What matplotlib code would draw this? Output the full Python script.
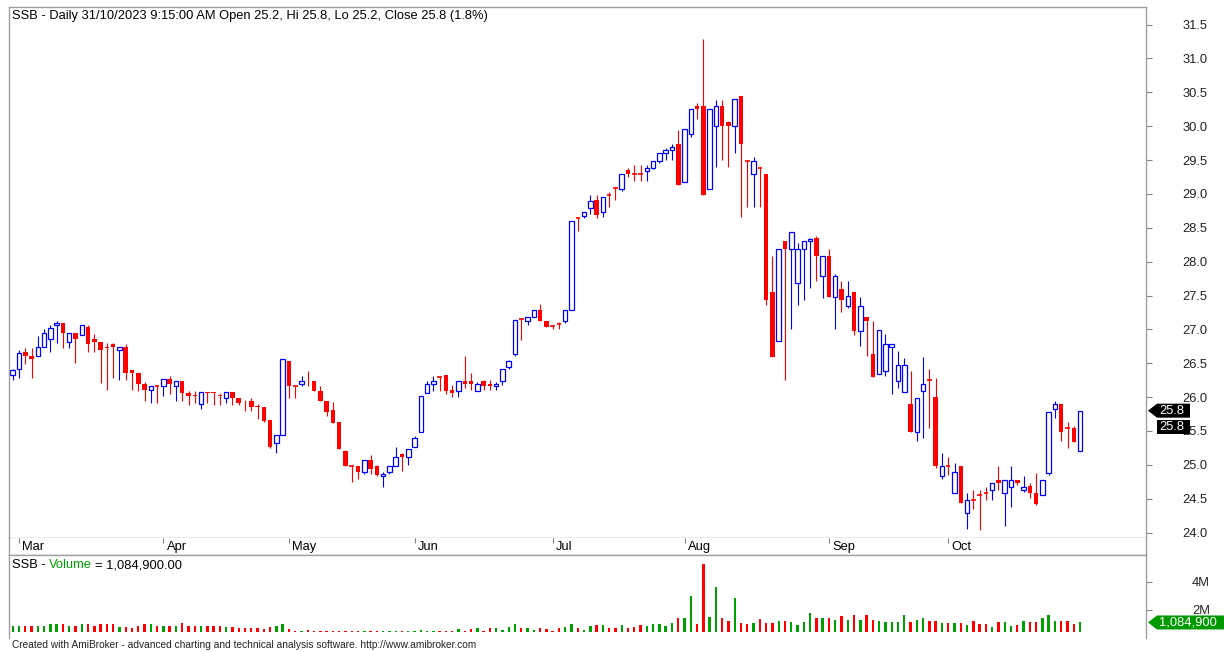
import numpy as np
import matplotlib.pyplot as plt
from matplotlib.patches import Polygon

plt.rcParams['font.family'] = ['Liberation Sans', 'DejaVu Sans']

# daily bars, 28/02/2023 .. 31/10/2023
opens = [26.32, 26.41, 26.66, 26.61, 26.60, 26.74, 26.865, 27.07, 27.10, 26.82,
         26.94, 26.91, 27.03, 26.865, 26.82, 26.74, 26.79, 26.70, 26.74, 26.40,
         26.36, 26.19, 26.10, 26.16, 26.16, 26.27, 26.16, 26.24, 26.06, 26.03,
         25.90, 26.07, 26.07, 26.03, 25.99, 26.07, 25.99, 25.95, 25.95, 25.87,
         25.86, 25.66, 25.32, 25.44, 26.53, 26.16, 26.19, 26.245, 26.24, 26.095,
         25.94, 25.815, 25.63, 25.20, 24.985, 24.985, 24.90, 25.07, 24.99, 24.83,
         24.90, 24.985, 25.16, 25.11, 25.27, 25.48, 26.06, 26.195, 26.29, 26.32,
         26.105, 26.095, 26.24, 26.24, 26.095, 26.24, 26.19, 26.16, 26.24, 26.44,
         26.63, 27.16, 27.13, 27.18, 27.29, 27.13, 27.05, 27.08, 27.13, 27.29,
         28.65, 28.68, 28.79, 28.91, 28.74, 28.99, 29.09, 29.08, 29.35, 29.30,
         29.30, 29.34, 29.39, 29.49, 29.60, 29.65, 29.74, 29.18, 29.88, 30.30,
         30.30, 29.08, 30.00, 30.30, 30.055, 30.00, 30.45, 29.49, 29.29, 29.39,
         29.30, 27.55, 26.83, 28.30, 28.18, 27.69, 28.18, 28.30, 28.35, 27.79,
         28.09, 27.48, 27.60, 27.34, 27.55, 26.98, 27.18, 26.64, 26.34, 26.38,
         26.74, 26.24, 26.075, 25.90, 25.48, 26.085, 26.25, 26.00, 24.84, 24.99,
         24.58, 24.99, 24.29, 24.48, 24.55, 24.59, 24.63, 24.78, 24.58, 24.68,
         24.78, 24.63, 24.69, 24.58, 24.55, 24.88, 25.83, 25.90, 25.55, 25.55,
         25.20]
highs = [26.42, 26.69, 26.72, 26.72, 26.90, 27.01, 27.07, 27.13, 27.10, 26.94,
         26.94, 27.07, 27.06, 26.93, 26.82, 26.80, 26.80, 26.74, 26.78, 26.40,
         26.36, 26.23, 26.16, 26.18, 26.27, 26.31, 26.24, 26.24, 26.09, 26.09,
         26.07, 26.07, 26.07, 26.06, 26.07, 26.07, 25.99, 25.96, 25.98, 25.90,
         25.86, 25.66, 25.44, 26.56, 26.53, 26.16, 26.31, 26.39, 26.24, 26.16,
         25.94, 25.93, 25.63, 25.22, 24.985, 24.985, 25.07, 25.15, 25.00, 24.89,
         24.985, 25.26, 25.18, 25.24, 25.43, 26.02, 26.24, 26.31, 26.29, 26.32,
         26.18, 26.24, 26.60, 26.35, 26.22, 26.26, 26.26, 26.23, 26.41, 26.55,
         27.14, 27.16, 27.18, 27.29, 27.38, 27.13, 27.07, 27.11, 27.29, 28.60,
         28.65, 28.74, 28.99, 28.99, 28.96, 29.03, 29.10, 29.30, 29.39, 29.425,
         29.425, 29.42, 29.49, 29.60, 29.68, 29.73, 29.94, 29.96, 30.25, 30.34,
         31.29, 30.25, 30.385, 30.385, 30.08, 30.40, 30.45, 29.49, 29.54, 29.40,
         29.30, 28.08, 28.18, 28.30, 28.44, 28.28, 28.30, 28.35, 28.38, 28.09,
         28.18, 27.82, 27.72, 27.72, 27.55, 27.48, 27.18, 27.12, 26.99, 26.93,
         26.79, 26.68, 26.58, 26.38, 25.99, 26.59, 26.42, 26.28, 25.17, 25.12,
         25.03, 24.99, 24.58, 24.63, 24.63, 24.68, 24.73, 24.98, 24.78, 24.98,
         24.78, 24.83, 24.73, 24.88, 24.78, 25.78, 25.94, 25.90, 25.63, 25.58,
         25.80]
lows = [26.26, 26.28, 26.49, 26.28, 26.60, 26.74, 26.67, 26.80, 26.72, 26.72,
        26.50, 26.91, 26.67, 26.67, 26.21, 26.11, 26.28, 26.26, 26.26, 26.11,
        26.09, 25.95, 25.92, 25.92, 26.01, 26.04, 25.95, 25.95, 25.88, 25.92,
        25.83, 25.92, 25.88, 25.88, 25.92, 25.88, 25.89, 25.80, 25.80, 25.67,
        25.64, 25.25, 25.17, 25.44, 25.99, 25.99, 26.17, 26.17, 26.095, 25.94,
        25.72, 25.62, 25.24, 24.985, 24.74, 24.79, 24.87, 24.87, 24.83, 24.67,
        24.87, 24.985, 24.91, 25.00, 25.26, 25.48, 26.06, 26.09, 26.09, 26.04,
        25.995, 26.00, 26.14, 26.11, 26.09, 26.11, 26.11, 26.11, 26.18, 26.42,
        26.60, 26.85, 27.06, 27.18, 27.13, 27.04, 27.00, 27.00, 27.10, 27.29,
        28.45, 28.64, 28.70, 28.65, 28.66, 28.80, 28.91, 29.05, 29.25, 29.19,
        29.19, 29.19, 29.37, 29.45, 29.50, 29.50, 29.13, 29.18, 29.84, 30.10,
        28.99, 29.08, 29.40, 29.50, 29.40, 29.61, 28.66, 28.80, 28.80, 28.80,
        27.36, 26.59, 26.83, 26.26, 27.00, 27.36, 27.44, 27.61, 27.71, 27.46,
        27.48, 27.00, 27.26, 27.31, 26.91, 26.75, 26.60, 26.29, 26.34, 26.31,
        26.05, 26.14, 26.075, 25.48, 25.35, 25.40, 25.55, 24.95, 24.79, 24.85,
        24.58, 24.43, 24.05, 24.35, 24.04, 24.48, 24.48, 24.63, 24.09, 24.38,
        24.70, 24.60, 24.51, 24.40, 24.55, 24.85, 25.69, 25.35, 25.25, 25.34,
        25.20]
closes = [26.40, 26.65, 26.61, 26.56, 26.74, 26.94, 27.02, 27.10, 26.94, 26.94,
          26.865, 27.07, 26.79, 26.82, 26.70, 26.73, 26.74, 26.74, 26.36, 26.36,
          26.19, 26.10, 26.16, 26.16, 26.27, 26.19, 26.24, 26.06, 26.02, 26.02,
          26.07, 26.06, 26.06, 26.02, 26.07, 25.99, 25.91, 25.94, 25.86, 25.86,
          25.65, 25.27, 25.44, 26.56, 26.16, 26.16, 26.24, 26.24, 26.095, 25.94,
          25.775, 25.62, 25.24, 24.985, 24.985, 24.90, 25.07, 24.94, 24.85, 24.86,
          24.985, 25.11, 25.11, 25.24, 25.40, 26.02, 26.19, 26.24, 26.29, 26.095,
          26.06, 26.24, 26.19, 26.19, 26.19, 26.17, 26.16, 26.19, 26.41, 26.53,
          27.14, 27.16, 27.18, 27.29, 27.13, 27.04, 27.05, 27.08, 27.29, 28.60,
          28.65, 28.74, 28.90, 28.69, 28.96, 28.99, 29.09, 29.30, 29.30, 29.30,
          29.30, 29.39, 29.49, 29.60, 29.65, 29.70, 29.13, 29.96, 30.25, 30.25,
          28.99, 30.25, 30.30, 30.00, 30.00, 30.40, 29.735, 29.49, 29.49, 29.39,
          27.43, 26.59, 28.18, 28.18, 28.44, 28.18, 28.30, 28.34, 28.08, 28.09,
          27.48, 27.79, 27.43, 27.49, 26.98, 27.34, 27.13, 26.29, 26.99, 26.79,
          26.79, 26.48, 26.48, 25.48, 25.99, 26.20, 26.25, 24.976, 24.99, 24.99,
          24.89, 24.43, 24.48, 24.48, 24.55, 24.59, 24.73, 24.73, 24.78, 24.78,
          24.73, 24.68, 24.58, 24.42, 24.78, 25.78, 25.90, 25.48, 25.55, 25.34,
          25.80]
# volume in millions of shares
volume_m = [0.85, 0.80, 0.85, 0.80, 0.85, 0.85, 0.95, 1.00, 0.95, 0.85,
            0.85, 0.95, 0.95, 0.85, 0.95, 0.95, 1.00, 0.75, 0.75, 0.70,
            0.80, 0.95, 0.95, 0.85,
            0.80, 0.85, 0.85, 1.05, 0.85, 0.85, 0.85, 0.80, 0.85, 0.80,
            0.75, 0.75, 0.70, 0.70, 0.68, 0.68, 0.65, 0.75, 0.80, 1.00,
            0.60, 0.48, 0.50, 0.55, 0.47, 0.46, 0.50, 0.47, 0.46, 0.48,
            0.50, 0.46, 0.48, 0.50, 0.47, 0.50, 0.46, 0.48, 0.50, 0.46,
            0.47, 0.55, 0.48, 0.46, 0.50, 0.47, 0.46, 0.58,
            0.50, 0.62, 0.70, 0.50, 0.68, 0.72, 0.55, 0.75, 1.00, 0.70,
            0.72, 0.52, 0.70, 0.60, 0.50, 0.72, 0.75, 0.95, 0.68, 0.52,
            0.80, 0.90,
            0.88, 0.66, 0.66, 0.88, 0.66, 0.76, 0.88, 0.80, 0.95, 1.00,
            0.83, 1.07, 1.39, 1.39, 2.95, 0.95, 5.29, 1.51, 3.63, 1.39,
            1.20, 2.85, 1.02, 1.00, 1.07, 1.32, 1.07, 1.07, 1.20, 1.20,
            1.15, 0.88, 1.12, 1.76, 1.44, 1.44, 1.44, 1.24, 1.54, 1.29,
            1.61, 1.29, 1.63, 1.29, 1.20, 1.15, 1.15, 1.15, 1.61, 1.15,
            1.24, 1.44, 1.20, 1.20, 1.07, 1.02, 1.05, 1.05, 0.88, 1.20,
            0.95, 0.95, 0.78, 1.15, 1.15, 0.83, 0.90, 1.20, 1.15, 1.15,
            1.44, 1.61, 1.20, 1.20, 1.20, 0.95, 1.084900]

month_names = ['Mar', 'Apr', 'May', 'Jun', 'Jul', 'Aug', 'Sep', 'Oct']
month_first_bar = [1, 24, 44, 64, 86, 107, 130, 149]
price_ticks = np.arange(24.0, 31.51, 0.5)
vol_ticks = [2, 4]
vol_tick_labels = ['2M', '4M']

title = 'SSB - Daily 31/10/2023 9:15:00 AM Open 25.2, Hi 25.8, Lo 25.2, Close 25.8 (1.8%)'
footer = ('Created with AmiBroker - advanced charting and technical analysis '
          'software. http://www.amibroker.com')

BLUE = '#0000ff'
RED = '#ff0000'
GREEN = '#00a000'
GRID = '#a0a0a0'
FS = 9.3
W, H = 1224, 652

fig = plt.figure(figsize=(W / 100, H / 100), dpi=100)


def px_box(x0, y0, x1, y1):
    return [x0 / W, 1 - y1 / H, (x1 - x0) / W, (y1 - y0) / H]


ax = fig.add_axes(px_box(9, 7, 1146, 538))
ax_date = fig.add_axes(px_box(9, 538, 1146, 555))
ax_vol = fig.add_axes(px_box(9, 555, 1146, 632))
over = fig.add_axes([0, 0, 1, 1], zorder=10)
over.set_xlim(0, W)
over.set_ylim(H, 0)
over.axis('off')
over.patch.set_alpha(0)

o = np.array(opens)
h = np.array(highs)
l = np.array(lows)
c = np.array(closes)
v = np.array(volume_m)
x = np.arange(len(o))
up = c > o
dn = c < o
flat = c == o
bw = 0.72

# candles
ax.vlines(x, l, h, colors=np.where(up, BLUE, RED), lw=0.8, zorder=1)
ax.bar(x[up], (c - o)[up], bottom=o[up], width=bw, facecolor='white',
       edgecolor=BLUE, lw=0.9, zorder=2)
ax.bar(x[dn], (o - c)[dn], bottom=c[dn], width=bw, color=RED, lw=0, zorder=2)
ax.hlines(o[flat], x[flat] - bw / 2, x[flat] + bw / 2, colors=RED, lw=1.2, zorder=2)

xlim = (-0.59, 180.5)
for a in (ax, ax_date, ax_vol):
    a.set_xlim(*xlim)
    a.set_xticks([])
    for s in a.spines.values():
        s.set_color(GRID)
        s.set_linewidth(1)

ax.set_ylim(23.92, 31.76)
ax.yaxis.tick_right()
ax.set_yticks(price_ticks)
ax.set_yticklabels([f'{t:.1f}' for t in price_ticks])
ax.tick_params(axis='y', length=4, width=0.8, color='#808080', pad=22,
               labelsize=FS, labelcolor='#222222')

# month strip
ax_date.set_ylim(0, 1)
ax_date.set_yticks([])
ax_date.spines['top'].set_visible(False)
for m, i in zip(month_names, month_first_bar):
    ax_date.vlines(i, 0.7, 1.0, colors='#808080', lw=0.8)
    ax_date.text(i + 0.55, 0.45, m, ha='left', va='center', fontsize=FS)

# volume
vcol = np.where(up, GREEN, RED)
ax_vol.bar(x, v, width=0.38, color=vcol, lw=0)
ax_vol.set_ylim(0.40, 5.93)
ax_vol.yaxis.tick_right()
ax_vol.set_yticks(vol_ticks)
ax_vol.set_yticklabels(vol_tick_labels)
ax_vol.tick_params(axis='y', length=4, width=0.8, color='#808080', pad=29,
                   labelsize=FS, labelcolor='#222222')
ax_vol.spines['bottom'].set_visible(False)
ax_vol.spines['left'].set_bounds(0.0, 5.93)
ax_vol.spines['right'].set_bounds(0.0, 5.93)


def to_px(a, xv, yv):
    X, Y = a.transData.transform((xv, yv))
    return X, H - Y


def tag(y, text, fc, x1, arrow=True, hh=7):
    x0 = 1157
    if arrow:
        pts = [(1148, y), (x0, y - hh), (x1, y - hh), (x1, y + hh), (x0, y + hh)]
    else:
        pts = [(x0, y - hh), (x1, y - hh), (x1, y + hh), (x0, y + hh)]
    over.add_patch(Polygon(pts, closed=True, fc=fc, ec='none', zorder=5))
    over.text(x0 + 2, y, text, color='white', ha='left', va='center', fontsize=FS,
              zorder=6)


_, yc = to_px(ax, 0, c[-1])
tag(yc, f'{c[-1]:.1f}', 'black', 1190)
tag(yc + 16.5, f'{c[-1]:.1f}', 'black', 1190, arrow=False)
_, yv = to_px(ax_vol, 0, v[-1])
tag(yv, f'{v[-1] * 1e6:,.0f}', '#009900', 1230)

over.text(12, 16, title, ha='left', va='center', fontsize=FS)

# volume pane caption, each piece chained to the one before
t1 = over.text(12, 565, 'SSB -', ha='left', va='center', fontsize=FS)
t2 = over.annotate('Volume', xy=(1, 0), xycoords=t1, xytext=(2.6, 0),
                   textcoords='offset points', va='bottom', fontsize=FS,
                   color=GREEN)
over.annotate(f'= {v[-1] * 1e6:,.2f}', xy=(1, 0), xycoords=t2, xytext=(1.8, 0),
              textcoords='offset points', va='bottom', fontsize=FS)

over.text(12, 645, footer, ha='left', va='center', fontsize=7.3, color='#222222')

fig.savefig('out.png', dpi=100)
